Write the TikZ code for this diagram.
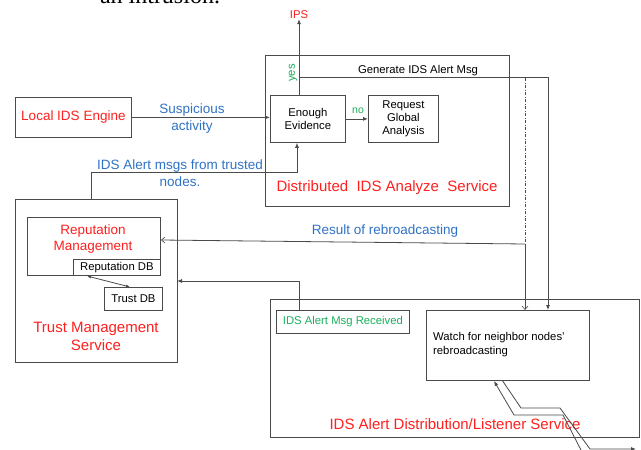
\documentclass[tikz,border=0pt]{standalone}
\usepackage{fontspec}
\setmainfont{Liberation Sans}
\newfontfamily\serifface{Liberation Serif}
\usetikzlibrary{arrows.meta}
\definecolor{lc}{HTML}{4A4A4A}
\definecolor{tred}{HTML}{FF1F1F}
\definecolor{tblue}{HTML}{2F72C4}
\definecolor{tgreen}{HTML}{19AE5C}
\newcommand\fbig{\fontsize{15}{18}\selectfont}
\newcommand\fmid{\fontsize{13.5}{16.5}\selectfont}
\newcommand\fmidb{\fontsize{13.5}{17}\selectfont}
\newcommand\fmidc{\fontsize{13.5}{16}\selectfont}
\newcommand\fsml{\fontsize{11.3}{13.3}\selectfont}
\newcommand\fsmlb{\fontsize{11.3}{13.5}\selectfont}
\begin{document}
\begin{tikzpicture}[x=1pt,y=-1pt,
  box/.style={draw=lc, line width=0.8pt, inner sep=0pt, anchor=north west},
  conn/.style={draw=lc, line width=0.8pt},
  tipf/.style={-{Latex[length=5pt,width=4pt]}},
  tipo/.style={-{Straight Barb[length=3.5pt,width=6pt,line width=0.6pt]}},
  lbl/.style={inner sep=0pt, align=center}]
\useasboundingbox (0,0) rectangle (641,450);
% cut-off caption text at top
\node[inner sep=0pt, anchor=base, font=\serifface\fontsize{24}{26}\selectfont] (cap) at (160,3) {an intrusion.};
% boxes
\node[box, minimum width=116pt, minimum height=40pt, font=\fmid, text=tred] (lie) at (15,97) {Local IDS Engine};
\node[box, minimum width=244pt, minimum height=151pt] (das) at (265,55) {};
\node[box, minimum width=75pt, minimum height=47pt, font=\fsml, align=center] (ee) at (270,95) {Enough\\Evidence};
\node[box, minimum width=70pt, minimum height=47pt, font=\fsml, align=center] (rga) at (368,95) {Request\\Global\\Analysis};
\node[box, minimum width=162pt, minimum height=163pt] (tms) at (15,199) {};
\node[box, minimum width=133pt, minimum height=58pt] (rm) at (27,217) {};
\node[box, minimum width=87pt, minimum height=16pt, font=\fsml] (rdb) at (73,259) {Reputation DB};
\node[box, minimum width=58pt, minimum height=23pt, font=\fsml] (tdb) at (104,287) {Trust DB};
\node[box, minimum width=369pt, minimum height=138pt] (ls) at (270,299) {};
\node[box, minimum width=133pt, minimum height=23pt, font=\fsml, text=tgreen] (amr) at (276,310) {IDS Alert Msg Received};
\node[box, minimum width=163pt, minimum height=70pt] (wb) at (426,310) {};
% labels
\node[lbl, font=\fsml, text=tred] (ips) at (299,15) {IPS};
\node[lbl, font=\fsml, text=tgreen, rotate=90] (yes) at (293,73) {yes};
\node[lbl, font=\fontsize{10.5}{12}\selectfont, text=tgreen] (no) at (358,111) {no};
\node[lbl, font=\fsml] (gen) at (418,71) {Generate IDS Alert Msg};
\node[lbl, font=\fbig, text=tred] (dasl) at (387,188) {Distributed\ \ IDS Analyze\ \ Service};
\node[lbl, font=\fmidb, text=tblue] (susp) at (192,118.5) {Suspicious\\activity};
\node[lbl, font=\fmidb, text=tblue] (trusted) at (180,173.5) {IDS Alert msgs from trusted\\nodes.};
\node[lbl, font=\fmid, text=tblue] (res) at (385,231) {Result of rebroadcasting};
\node[lbl, font=\fmidc, text=tred] (rml) at (93,239) {Reputation\\Management};
\node[lbl, font=\fbig, text=tred] (tmsl) at (96,336) {Trust Management\\Service};
\node[lbl, font=\fsmlb, align=left, anchor=west] (wbl) at (433,344.5) {Watch for neighbor nodes'\\rebroadcasting};
\node[lbl, font=\fbig, text=tred] (lsl) at (455,424) {IDS Alert Distribution/Listener Service};
% coordinates
\coordinate (eetop) at (299,95);
\coordinate (gy) at (299,77);
\coordinate (gc) at (548,77);
\coordinate (tA) at (91,199);
\coordinate (tB) at (91,172);
\coordinate (tC) at (297,172);
\coordinate (dtop) at (525,78);
\coordinate (dbot) at (525,244);
\coordinate (rmin) at (161,240);
\coordinate (aA) at (299,310);
\coordinate (aB) at (299,281);
\coordinate (tmsin) at (177,281);
\coordinate (dbA) at (87,276);
\coordinate (dbB) at (130,287);
\coordinate (zA0) at (582,452);
\coordinate (zA1) at (563,415);
\coordinate (zA2) at (514,415);
\coordinate (zA3) at (494,381);
\coordinate (zB0) at (502,380);
\coordinate (zB1) at (521,408);
\coordinate (zB2) at (560,408);
\coordinate (zB3) at (590,449);
\coordinate (zB4) at (636,449);
% connectors
\draw[conn, tipf] (lie.east) -- (lie.east -| ee.west);
\draw[conn, tipf] (eetop) -- (ips.south);
\draw[conn, tipf] (gy) -- (gc) -- (gc |- wb.north);
\draw[conn, tipf] (ee.east) -- (rga.west);
\draw[conn, tipf] (tA) -- (tB) -- (tC) -- (tC |- ee.south);
\draw[conn, line width=0.8pt, dash pattern=on 3pt off 1.5pt on 1pt off 1.5pt] (dtop) -- (dbot);
\draw[conn, tipo] (dbot) -- (dbot |- wb.north);
\draw[conn, tipo] (dbot) -- (rmin);
\draw[conn, tipf] (aA) -- (aB) -- (tmsin);
\draw[conn, {Latex[length=4pt,width=3pt]}-{Latex[length=4pt,width=3pt]}] (dbA) -- (dbB);
\draw[conn, tipf] (zA0) -- (zA1) -- (zA2) -- (zA3);
\draw[conn, tipf] (zB0) -- (zB1) -- (zB2) -- (zB3) -- (zB4);
\end{tikzpicture}
\end{document}
